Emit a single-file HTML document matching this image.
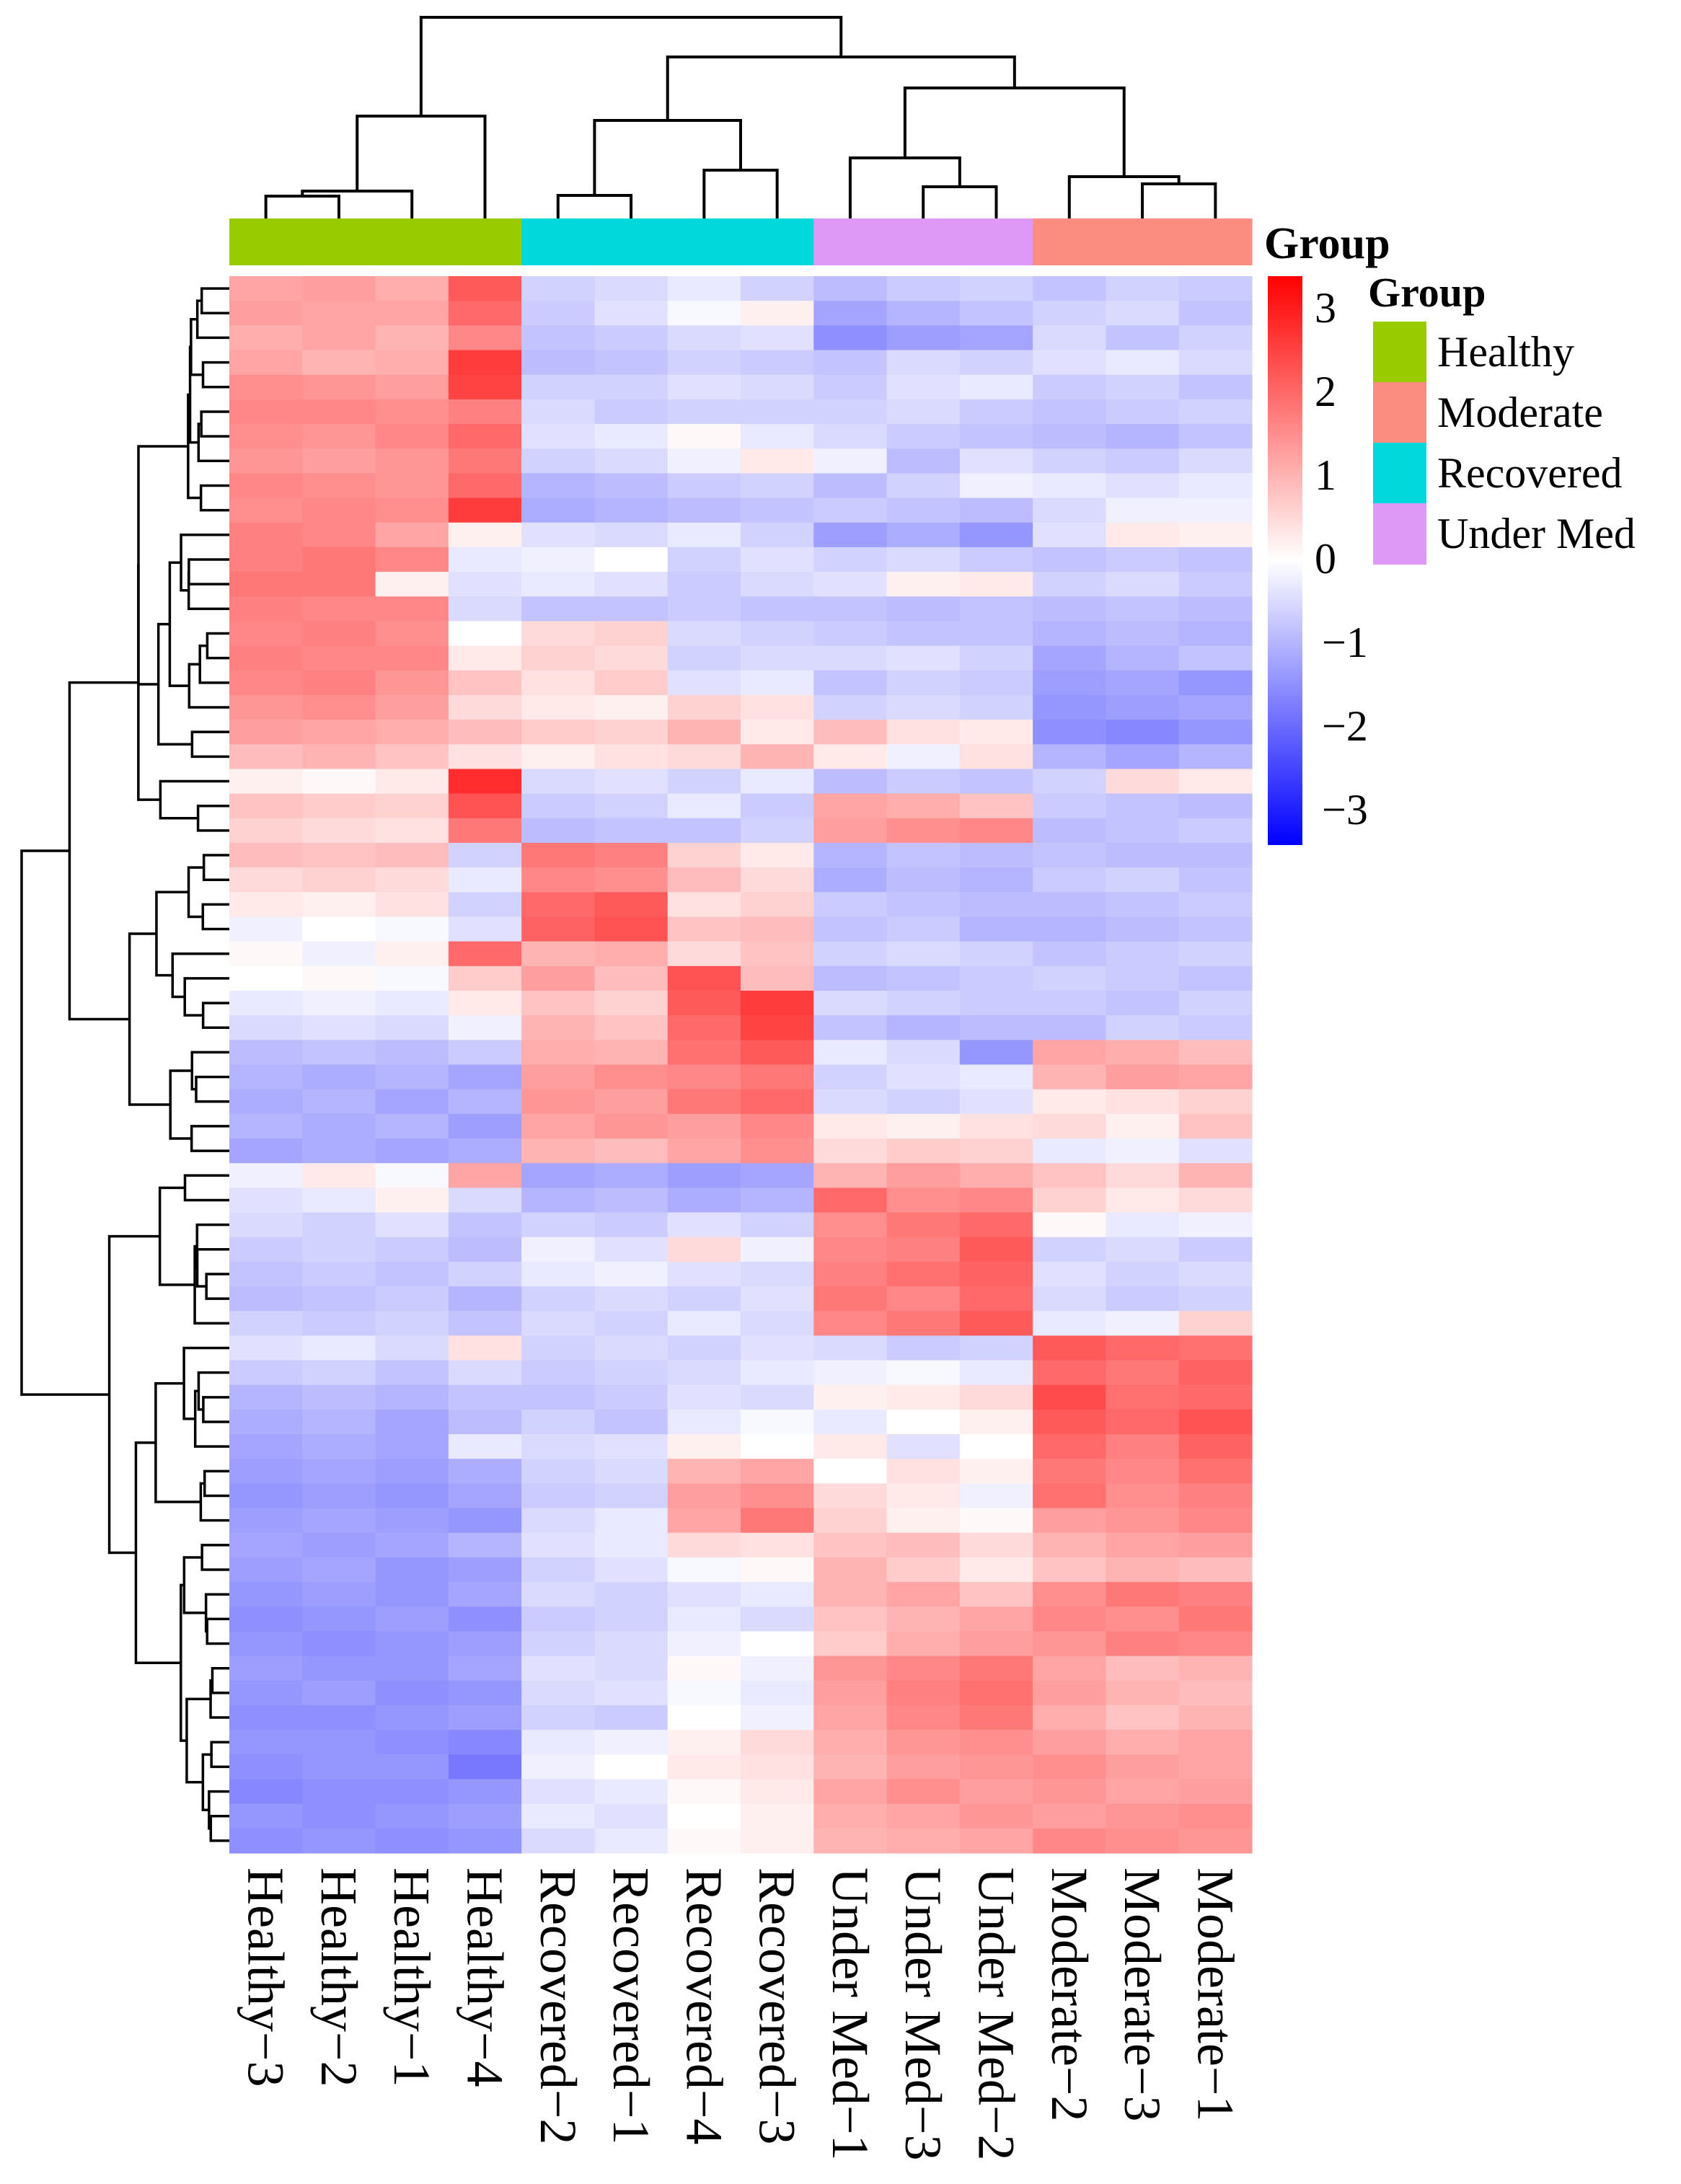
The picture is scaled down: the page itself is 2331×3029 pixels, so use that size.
<!DOCTYPE html>
<html><head><meta charset="utf-8"><style>
html,body{margin:0;padding:0;background:#fff;}
svg{display:block;}
svg text{font-family:"Liberation Serif","Times New Roman",serif;}
</style></head><body>
<svg id="chart" width="2331" height="3029" viewBox="0 0 2331 3029" xmlns="http://www.w3.org/2000/svg" font-family="Liberation Serif, serif">
<g id="cells"></g>
<g id="rowdend" stroke="#000" stroke-width="3.5" fill="none"></g>
<g id="coldend" stroke="#000" stroke-width="4" fill="none"></g>
<g id="annot"></g>
<g id="collabels"></g>
<text x="1753" y="358" font-size="62" font-weight="bold" font-family="Liberation Serif, serif">Group</text>
<defs><linearGradient id="cbg" x1="0" y1="0" x2="0" y2="1">
<stop offset="0" stop-color="#ff0000"/><stop offset="0.5" stop-color="#ffffff"/><stop offset="1" stop-color="#0000ff"/></linearGradient></defs>
<rect x="1758" y="383" width="48" height="789" fill="url(#cbg)"/>
<g id="cbticks" font-size="60" font-family="Liberation Serif, serif"></g>
<g id="legend" font-family="Liberation Serif, serif">
<text x="1897" y="425" font-size="58" font-weight="bold">Group</text>
</g>
</svg>
<script>
const colLabels = ["Healthy\u22123","Healthy\u22122","Healthy\u22121","Healthy\u22124","Recovered\u22122","Recovered\u22121","Recovered\u22124","Recovered\u22123","Under Med\u22121","Under Med\u22123","Under Med\u22122","Moderate\u22122","Moderate\u22123","Moderate\u22121"];
const colGroups = ["Healthy","Healthy","Healthy","Healthy","Recovered","Recovered","Recovered","Recovered","Under Med","Under Med","Under Med","Moderate","Moderate","Moderate"];
const legendGroups = ["Healthy","Moderate","Recovered","Under Med"];
const groupColors = {"Healthy":"#99CC00","Moderate":"#FA8C80","Recovered":"#00D8DC","Under Med":"#DD99F5"};
const scaleTicks = [3,2,1,0,-1,-2,-3];
const colMerges = [
 [-0,-1,31],[1,-2,38],[2,-3,142],
 [-4,-5,32],[-6,-7,67],[4,5,136],
 [-9,-10,44],[-8,7,84],
 [-12,-13,48],[-11,9,58],
 [8,10,181],[6,11,224],[3,12,279]
];
const rowValues = [
[1.2,1.3,1.1,2.2,-0.6,-0.5,-0.3,-0.6,-0.9,-0.7,-0.6,-0.8,-0.6,-0.7],
[1.3,1.2,1.2,2.0,-0.7,-0.4,-0.1,0.2,-1.2,-1.0,-0.8,-0.6,-0.5,-0.8],
[1.1,1.2,1.0,1.6,-0.8,-0.7,-0.5,-0.4,-1.5,-1.3,-1.2,-0.5,-0.8,-0.6],
[1.2,1.0,1.1,2.6,-0.9,-0.8,-0.6,-0.7,-0.8,-0.5,-0.6,-0.4,-0.3,-0.5],
[1.5,1.4,1.3,2.5,-0.6,-0.6,-0.4,-0.5,-0.7,-0.4,-0.3,-0.7,-0.6,-0.8],
[1.6,1.6,1.5,1.7,-0.5,-0.7,-0.6,-0.6,-0.6,-0.5,-0.7,-0.8,-0.7,-0.6],
[1.5,1.4,1.6,2.0,-0.4,-0.3,0.1,-0.3,-0.5,-0.7,-0.8,-0.9,-1.0,-0.8],
[1.4,1.3,1.4,1.8,-0.6,-0.5,-0.2,0.3,-0.2,-0.9,-0.4,-0.6,-0.7,-0.5],
[1.6,1.5,1.4,2.0,-1.0,-0.9,-0.7,-0.6,-0.9,-0.6,-0.2,-0.3,-0.4,-0.3],
[1.5,1.6,1.5,2.6,-1.1,-1.0,-0.9,-0.8,-0.7,-0.8,-0.9,-0.5,-0.2,-0.2],
[1.7,1.6,1.2,0.2,-0.4,-0.5,-0.3,-0.6,-1.3,-1.1,-1.4,-0.4,0.3,0.2],
[1.7,1.8,1.6,-0.3,-0.2,0.0,-0.6,-0.4,-0.6,-0.5,-0.7,-0.8,-0.7,-0.8],
[1.8,1.8,0.2,-0.4,-0.3,-0.4,-0.7,-0.5,-0.4,0.2,0.3,-0.6,-0.5,-0.7],
[1.7,1.6,1.6,-0.5,-0.8,-0.8,-0.7,-0.8,-0.8,-0.9,-0.8,-0.9,-0.8,-0.9],
[1.6,1.7,1.5,0.0,0.5,0.6,-0.5,-0.6,-0.7,-0.8,-0.8,-1.0,-0.9,-1.0],
[1.7,1.6,1.6,0.3,0.6,0.5,-0.6,-0.5,-0.5,-0.4,-0.6,-1.2,-1.0,-0.8],
[1.6,1.7,1.4,0.8,0.4,0.7,-0.4,-0.3,-0.8,-0.6,-0.7,-1.3,-1.2,-1.4],
[1.4,1.5,1.3,0.5,0.3,0.2,0.6,0.4,-0.6,-0.5,-0.6,-1.4,-1.3,-1.2],
[1.3,1.2,1.1,0.9,0.7,0.6,1.0,0.3,0.9,0.4,0.3,-1.5,-1.6,-1.4],
[0.9,1.0,0.8,0.4,0.2,0.4,0.5,1.0,0.3,-0.2,0.4,-1.0,-1.2,-1.0],
[0.2,0.1,0.3,2.8,-0.5,-0.4,-0.6,-0.3,-0.9,-0.7,-0.8,-0.6,0.5,0.3],
[0.8,0.7,0.6,2.3,-0.7,-0.6,-0.3,-0.7,1.2,1.1,0.8,-0.7,-0.8,-0.9],
[0.6,0.5,0.4,1.8,-0.9,-0.8,-0.8,-0.6,1.3,1.5,1.6,-0.9,-0.8,-0.7],
[0.9,0.8,0.9,-0.6,1.8,1.7,0.6,0.3,-1.0,-0.8,-0.9,-0.8,-0.9,-0.9],
[0.5,0.6,0.5,-0.3,1.6,1.5,0.9,0.5,-1.1,-0.9,-1.0,-0.7,-0.6,-0.8],
[0.3,0.2,0.4,-0.6,2.0,2.2,0.4,0.6,-0.7,-0.8,-0.9,-0.9,-0.8,-0.7],
[-0.2,0.0,-0.1,-0.4,2.1,2.3,0.8,0.9,-0.8,-0.7,-1.0,-1.0,-0.9,-0.8],
[0.1,-0.2,0.2,2.0,1.0,1.1,0.5,0.8,-0.6,-0.5,-0.6,-0.8,-0.7,-0.6],
[0.0,0.1,-0.1,0.7,1.3,0.9,2.3,0.9,-0.9,-0.8,-0.7,-0.6,-0.7,-0.8],
[-0.3,-0.2,-0.3,0.3,0.8,0.6,2.2,2.6,-0.5,-0.6,-0.7,-0.7,-0.8,-0.6],
[-0.5,-0.4,-0.5,-0.2,1.0,0.8,2.0,2.5,-0.8,-1.0,-0.9,-0.9,-0.6,-0.7],
[-0.9,-0.8,-0.9,-0.7,1.1,1.0,1.9,2.2,-0.3,-0.5,-1.4,1.2,1.1,0.9],
[-1.0,-1.1,-1.0,-1.2,1.3,1.5,1.6,1.8,-0.6,-0.4,-0.3,1.0,1.3,1.2],
[-1.1,-1.0,-1.2,-1.0,1.4,1.3,1.8,2.0,-0.5,-0.6,-0.4,0.3,0.4,0.6],
[-1.0,-1.1,-1.0,-1.3,1.2,1.4,1.3,1.6,0.3,0.2,0.4,0.5,0.2,0.8],
[-1.2,-1.1,-1.2,-1.1,1.0,0.9,1.2,1.5,0.5,0.7,0.6,-0.3,-0.2,-0.4],
[-0.2,0.3,-0.1,1.2,-1.2,-1.1,-1.3,-1.2,1.0,1.3,1.1,0.8,0.5,1.0],
[-0.4,-0.3,0.2,-0.5,-1.0,-0.9,-1.1,-1.0,2.0,1.5,1.6,0.6,0.3,0.5],
[-0.5,-0.6,-0.4,-0.8,-0.6,-0.7,-0.4,-0.6,1.5,1.8,2.0,0.1,-0.3,-0.2],
[-0.7,-0.6,-0.7,-0.9,-0.2,-0.4,0.5,-0.2,1.6,1.7,2.2,-0.6,-0.5,-0.7],
[-0.8,-0.7,-0.8,-0.6,-0.3,-0.2,-0.4,-0.5,1.7,1.9,2.1,-0.4,-0.6,-0.5],
[-0.9,-0.8,-0.7,-1.0,-0.6,-0.5,-0.6,-0.4,1.8,1.6,2.0,-0.5,-0.7,-0.6],
[-0.6,-0.7,-0.6,-0.8,-0.5,-0.6,-0.3,-0.5,1.6,1.8,2.2,-0.3,-0.2,0.6],
[-0.4,-0.3,-0.5,0.4,-0.6,-0.5,-0.6,-0.4,-0.5,-0.7,-0.6,2.2,2.0,1.9],
[-0.7,-0.6,-0.8,-0.5,-0.7,-0.6,-0.5,-0.3,-0.2,-0.1,-0.3,2.0,1.8,2.1],
[-1.0,-0.9,-1.0,-0.8,-0.8,-0.7,-0.4,-0.5,0.2,0.3,0.5,2.4,1.9,2.0],
[-1.1,-1.0,-1.2,-0.9,-0.6,-0.8,-0.3,-0.1,-0.3,0.0,0.2,2.2,2.0,2.3],
[-1.2,-1.1,-1.2,-0.3,-0.5,-0.4,0.2,0.0,0.3,-0.4,0.0,2.0,1.7,2.1],
[-1.3,-1.2,-1.3,-1.1,-0.6,-0.5,1.0,1.2,0.0,0.4,0.2,1.8,1.6,1.9],
[-1.4,-1.3,-1.4,-1.2,-0.7,-0.6,1.3,1.5,0.5,0.3,-0.2,1.9,1.5,1.7],
[-1.3,-1.2,-1.3,-1.4,-0.5,-0.3,1.2,1.8,0.6,0.2,0.1,1.3,1.4,1.6],
[-1.2,-1.3,-1.2,-1.0,-0.4,-0.3,0.5,0.4,0.8,0.9,0.5,1.0,1.2,1.3],
[-1.3,-1.2,-1.4,-1.3,-0.6,-0.4,-0.1,0.1,1.0,0.7,0.3,0.8,1.0,0.9],
[-1.4,-1.3,-1.4,-1.2,-0.5,-0.6,-0.4,-0.3,1.0,1.2,0.8,1.5,1.8,1.7],
[-1.5,-1.4,-1.3,-1.5,-0.7,-0.6,-0.3,-0.5,0.8,1.0,1.2,1.6,1.5,1.8],
[-1.4,-1.5,-1.4,-1.3,-0.6,-0.5,-0.2,0.0,0.7,1.1,1.3,1.4,1.7,1.6],
[-1.3,-1.4,-1.4,-1.2,-0.4,-0.5,0.1,-0.2,1.4,1.6,1.8,1.2,0.9,1.0],
[-1.4,-1.3,-1.5,-1.4,-0.5,-0.4,-0.1,-0.3,1.3,1.7,1.9,1.3,1.0,0.9],
[-1.5,-1.5,-1.4,-1.3,-0.6,-0.7,0.0,-0.2,1.2,1.6,1.8,1.1,0.8,1.0],
[-1.4,-1.4,-1.5,-1.6,-0.3,-0.2,0.2,0.5,1.1,1.4,1.5,1.3,1.1,1.2],
[-1.5,-1.4,-1.4,-1.8,-0.2,0.0,0.3,0.4,1.0,1.3,1.4,1.5,1.3,1.2],
[-1.6,-1.5,-1.5,-1.4,-0.4,-0.3,0.1,0.3,1.2,1.5,1.3,1.4,1.2,1.3],
[-1.4,-1.5,-1.4,-1.3,-0.3,-0.4,0.0,0.2,1.1,1.2,1.4,1.3,1.4,1.5],
[-1.5,-1.4,-1.5,-1.4,-0.5,-0.3,0.1,0.2,1.0,1.1,1.2,1.6,1.5,1.4]
];

const NS = "http://www.w3.org/2000/svg";
const SERIF = "Liberation Serif, serif";
const HX0 = 318, HX1 = 1736, HY0 = 383, HY1 = 2570;
const VMAX = 3.4;
const nCols = colLabels.length, nRows = rowValues.length;
const cw = (HX1 - HX0) / nCols, rh = (HY1 - HY0) / nRows;
function xCol(i){ return HX0 + i * cw; }
function yRow(r){ return HY0 + r * rh; }
function color(v){
  let t = Math.max(-1, Math.min(1, v / VMAX));
  if (t >= 0){ const c = Math.round(255 * (1 - t)); return `rgb(255,${c},${c})`; }
  const c = Math.round(255 * (1 + t)); return `rgb(${c},${c},255)`;
}
function mk(tag, attrs, parent){
  const e = document.createElementNS(NS, tag);
  for (const k in attrs) e.setAttribute(k, attrs[k]);
  parent.appendChild(e); return e;
}
const cells = document.getElementById('cells');
rowValues.forEach((row, r) => row.forEach((v, c) => {
  const e = mk('rect', {x: xCol(c), y: yRow(r), width: cw + 0.6, height: rh + 0.6, fill: color(v)}, cells);
  
  
}));
const annot = document.getElementById('annot');
colGroups.forEach((g, c) => {
  const e = mk('rect', {x: xCol(c), y: 303, width: cw + 0.6, height: 65, fill: groupColors[g]}, annot);
  
  
});
const cl = document.getElementById('collabels');
colLabels.forEach((t, c) => {
  const cx = xCol(c) + cw / 2;
  const e = mk('text', {x: 0, y: 0, 'font-size': 72, 'font-family': SERIF, 'dominant-baseline': 'central', transform: `translate(${cx},2590) rotate(90)`}, cl);
  e.textContent = t;
  
  
});
const cd = document.getElementById('coldend');
const BASE = 303;
const nodeX = [], nodeY = [];
colMerges.forEach((m) => {
  const a = (m[0] > 0) ? [nodeX[m[0]-1], nodeY[m[0]-1]] : [xCol(-m[0]) + cw/2, BASE];
  const b = (m[1] > 0) ? [nodeX[m[1]-1], nodeY[m[1]-1]] : [xCol(-m[1]) + cw/2, BASE];
  const y = BASE - m[2];
  const p = mk('path', {d: `M${a[0]},${a[1]}V${y}H${b[0]}V${b[1]}`}, cd);
  
  
  nodeX.push((a[0] + b[0]) / 2); nodeY.push(y);
});
const rd = document.getElementById('rowdend');
let clusters = rowValues.map((v, r) => ({mean: v.slice(), n: 1, y: yRow(r) + rh/2, h: 0}));
const merges = [];
function dist(a, b){ let s = 0; for (let i = 0; i < a.length; i++){ const d = a[i]-b[i]; s += d*d; } return Math.sqrt(s); }
while (clusters.length > 1){
  let best = 0, bd = Infinity;
  for (let i = 0; i < clusters.length - 1; i++){
    const d = dist(clusters[i].mean, clusters[i+1].mean) * Math.sqrt(clusters[i].n * clusters[i+1].n / (clusters[i].n + clusters[i+1].n));
    if (d < bd){ bd = d; best = i; }
  }
  const A = clusters[best], B = clusters[best+1];
  const h = Math.max(bd, A.h, B.h) + 0.01;
  const n = A.n + B.n;
  const mean = A.mean.map((v, i) => (v*A.n + B.mean[i]*B.n) / n);
  const C = {mean, n, y: (A.y + B.y)/2, h};
  merges.push([A, B, C]);
  clusters.splice(best, 2, C);
}
const maxH = clusters[0].h;
function hx(h){ return HX0 - 288 * Math.pow(h / maxH, 0.6); }
merges.forEach(([A, B, C]) => {
  const p = mk('path', {d: `M${hx(A.h)},${A.y}H${hx(C.h)}V${B.y}H${hx(B.h)}`}, rd);
  
  
});
const cb = document.getElementById('cbticks');
scaleTicks.forEach(v => {
  const y = 775 - 116 * v;
  const e = mk('text', {x: v < 0 ? 1833 : 1823, y: y, 'font-family': SERIF, 'dominant-baseline': 'central'}, cb);
  e.textContent = v < 0 ? '\u2212' + Math.abs(v) : String(v);
  
  
});
const lg = document.getElementById('legend');
legendGroups.forEach((g, i) => {
  const y = 446 + i * 84;
  const r = mk('rect', {x: 1904, y: y, width: 74, height: 85, fill: groupColors[g]}, lg);
  
  
  const t = mk('text', {x: 1993, y: y + 42, 'font-size': 60, 'font-family': SERIF, 'dominant-baseline': 'central'}, lg);
  t.textContent = g;
  
  
});
</script>
</body></html>
